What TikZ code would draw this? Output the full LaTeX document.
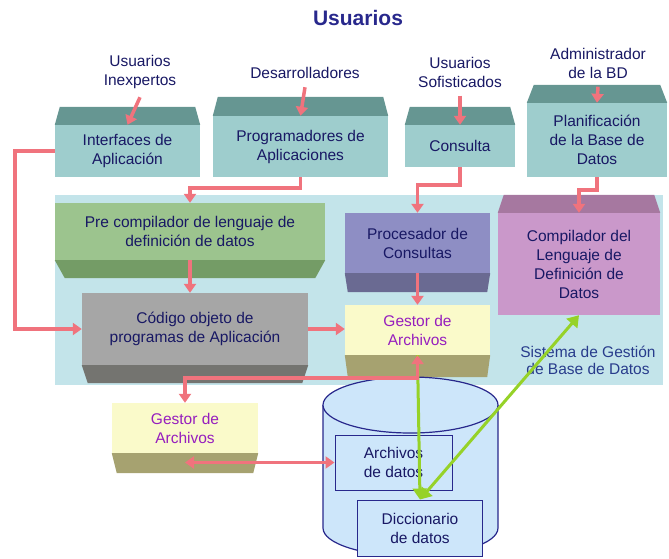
\documentclass[tikz,border=0pt]{standalone}
\usepackage{fontspec}
\setmainfont{Liberation Sans}
\usetikzlibrary{arrows.meta}

\definecolor{fondo}{RGB}{195,228,234}
\definecolor{azulv}{RGB}{158,205,205}
\definecolor{azulvD}{RGB}{102,150,146}
\definecolor{verde}{RGB}{156,196,142}
\definecolor{verdeD}{RGB}{116,156,102}
\definecolor{gris}{RGB}{166,166,166}
\definecolor{grisD}{RGB}{116,116,112}
\definecolor{pizarra}{RGB}{142,142,196}
\definecolor{pizarraD}{RGB}{106,106,146}
\definecolor{malva}{RGB}{202,152,202}
\definecolor{malvaD}{RGB}{166,120,160}
\definecolor{crema}{RGB}{250,250,202}
\definecolor{cremaD}{RGB}{166,162,112}
\definecolor{disco}{RGB}{205,230,250}
\definecolor{marino}{RGB}{40,40,140}
\definecolor{tinta}{RGB}{24,24,100}
\definecolor{gestor}{RGB}{150,30,190}
\definecolor{sist}{RGB}{40,60,140}
\definecolor{rosa}{RGB}{240,115,125}
\definecolor{lima}{RGB}{150,210,40}

% bevel above / below a box: node, colour, depth, inset
\newcommand{\topbev}[4]{\fill[#2] (#1.north west) -- ++(#4,-#3)
    -- ([xshift=-#4pt,yshift=#3pt]#1.north east) -- (#1.north east) -- cycle;}
\newcommand{\botbev}[4]{\fill[#2] (#1.south west) -- ++(#4,#3)
    -- ([xshift=-#4pt,yshift=-#3pt]#1.south east) -- (#1.south east) -- cycle;}

\begin{document}
\begin{tikzpicture}[x=1pt,y=-1pt,
    txt/.style={text=tinta, align=center, font=\fontsize{15.5}{19}\selectfont},
    box/.style={txt, fill=#1, inner sep=0pt},
    pk/.style={draw=rosa, line width=3.5pt, >={Triangle[length=9pt,width=12pt]}, ->},
    gr/.style={draw=lima, line width=3pt, >={Triangle[length=11pt,width=14pt]}, ->}]
    \useasboundingbox (0,0) rectangle (669,558);
    \node[txt, text=marino, font=\bfseries\fontsize{21}{24}\selectfont] (titulo) at (358,18) {Usuarios};
    \node[txt] (inexp) at (140,72) {Usuarios\\Inexpertos};
    \node[txt] (desar) at (305,73) {Desarrolladores};
    \node[txt] (sofis) at (460,72) {Usuarios\\Sofisticados};
    \node[txt] (admin) at (598,63) {Administrador\\de la BD};
    % top row
    \node[box=azulv, minimum width=145pt, minimum height=52pt] (interf) at (127.5,151) {Interfaces de\\Aplicación};
    \node[box=azulv, minimum width=175pt, minimum height=61pt] (progr) at (300.5,146.5) {Programadores de\\Aplicaciones};
    \node[box=azulv, minimum width=110pt, minimum height=42pt] (consul) at (460,146) {Consulta};
    \node[box=azulv, minimum width=140pt, minimum height=74pt] (planif) at (597,140) {Planificación\\de la Base de\\Datos};
    \topbev{interf}{azulvD}{18}{5}
    \topbev{progr}{azulvD}{19}{5}
    \topbev{consul}{azulvD}{18}{5}
    \topbev{planif}{azulvD}{18}{7}
    % system
    \fill[fondo] (55,195) rectangle (663,385);
    \node[box=verde, minimum width=270pt, minimum height=57pt] (precomp) at (190,231.5) {Pre compilador de lenguaje de\\definición de datos};
    \node[box=gris, minimum width=226pt, minimum height=72pt] (codigo) at (195,329) {Código objeto de\\programas de Aplicación};
    \node[box=pizarra, minimum width=145pt, minimum height=60pt] (proc) at (417.5,243) {Procesador de\\Consultas};
    \node[box=malva, minimum width=162pt, minimum height=102pt] (compil) at (579,264) {Compilador del\\Lenguaje de\\Definición de\\Datos};
    \node[box=crema, text=gestor, minimum width=145pt, minimum height=50pt] (gestin) at (417.5,330) {Gestor de\\Archivos};
    \node[txt, text=sist, font=\fontsize{15.5}{17}\selectfont] (sgbd) at (588,360) {Sistema de Gestión\\de Base de Datos};
    \botbev{precomp}{verdeD}{18}{10}
    \botbev{codigo}{grisD}{18}{6}
    \botbev{proc}{pizarraD}{19}{3}
    \botbev{gestin}{cremaD}{22}{3}
    \topbev{compil}{malvaD}{18}{6}
    % lower part
    \node[box=crema, text=gestor, minimum width=146pt, minimum height=50pt] (gestout) at (185,428) {Gestor de\\Archivos};
    \botbev{gestout}{cremaD}{20}{5}
    \filldraw[draw=marino, fill=disco, line width=1.2pt] (323,405) -- (323,528)
        arc[start angle=180, end angle=0, x radius=87.5, y radius=28] -- (498,405);
    \filldraw[draw=marino, fill=disco, line width=1.2pt] (410.5,405) ellipse[x radius=87.5, y radius=28];
    \node[txt, draw=marino, fill=disco, line width=1pt, minimum width=117pt, minimum height=55pt, inner sep=0pt] (archiv) at (393.5,462.5) {Archivos\\de datos};
    \node[txt, draw=marino, fill=disco, line width=1pt, minimum width=125pt, minimum height=56pt, inner sep=0pt] (dicc) at (420,528) {Diccionario\\de datos};
    % arrows
    \draw[gr] (gestin.south) -- (dicc.north);
    \draw[gr, <->] (compil.south) -- (dicc.north);
    \draw[pk] ([yshift=-5pt]inexp.south) -- (interf.north);
    \draw[pk] ([yshift=-5pt]desar.south) -- (progr.north);
    \draw[pk] ([yshift=-5pt]sofis.south) -- (consul.north);
    \draw[pk] ([yshift=-5pt]admin.south) -- (planif.north);
    \draw[pk] (interf.west) -- ++(-40,0) |- (codigo.west);
    \draw[pk] (progr.south) -- ++(0,11) -| (precomp.north);
    \draw[pk] (precomp.south) -- (precomp.south |- codigo.north);
    \draw[pk] (codigo.east) -- (codigo.east -| gestin.west);
    \draw[pk] (consul.south) -- ++(0,18) -| (proc.north);
    \draw[pk] (planif.south) -- ++(0,13) -| (compil.north);
    \draw[pk] (proc.south) -- (gestin.north);
    \draw[pk, <->] (gestin.south) -- ++(0,23) -| (gestout.north);
    \draw[pk, <->] (archiv.west -| gestout.south) -- (archiv.west);
\end{tikzpicture}
\end{document}
